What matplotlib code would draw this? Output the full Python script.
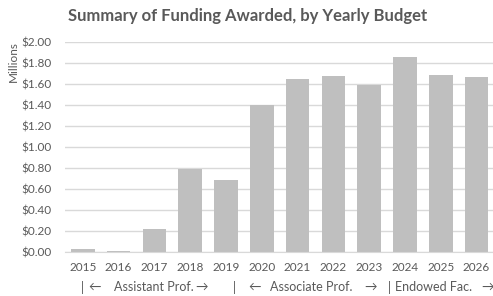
import matplotlib.pyplot as plt
from matplotlib.ticker import FuncFormatter

plt.rcParams['font.family'] = ['Lato', 'DejaVu Sans']

years = ['2015', '2016', '2017', '2018', '2019', '2020',
         '2021', '2022', '2023', '2024', '2025', '2026']
funding = [0.025, 0.005, 0.22, 0.79, 0.69, 1.40,
           1.645, 1.68, 1.59, 1.86, 1.685, 1.665]
y_ticks = [0.0, 0.2, 0.4, 0.6, 0.8, 1.0, 1.2, 1.4, 1.6, 1.8, 2.0]

# career stage row under the years: (text, x in px, alignment)
stage_parts = [('|', 82, 'center'), ('\u2190', 94.5, 'center'),
               ('Assistant Prof.', 114, 'left'), ('\u2192', 202, 'center'),
               ('|', 234, 'center'), ('\u2190', 255, 'center'),
               ('Associate Prof.', 270, 'left'), ('\u2192', 371, 'center'),
               ('|', 389, 'center'), ('Endowed Fac.', 395, 'left'),
               ('\u2192', 488, 'center')]

text_color = '#595959'
W, H = 493, 296

fig = plt.figure(figsize=(W / 100, H / 100), dpi=100)
ax = fig.add_axes([0.1316, 0.1486, 0.8714, 0.7095])

ax.bar(range(len(years)), funding, width=0.66, color='#BFBFBF', zorder=2)

ax.set_xlim(-0.5, len(years) - 0.5)
ax.set_ylim(0, 2.0)
ax.set_yticks(y_ticks)
ax.yaxis.set_major_formatter(FuncFormatter(lambda v, p: f'${v:.2f}'))
ax.set_xticks(range(len(years)))
ax.set_xticklabels(years)

ax.grid(axis='y', color='#D9D9D9', linewidth=1, zorder=0)
for s in ['top', 'right', 'left']:
    ax.spines[s].set_visible(False)
ax.spines['bottom'].set_color('#D9D9D9')
ax.tick_params(length=0, colors=text_color, labelsize=8.5)
ax.tick_params(axis='y', pad=9.4)
ax.tick_params(axis='x', pad=7.5)

ax.set_ylabel('Millions', color=text_color, fontsize=8.5)
ax.yaxis.set_label_coords(-0.108, 0.905)

fig.text(0.502, 1 - 16 / H, 'Summary of Funding Awarded, by Yearly Budget',
         ha='center', va='center', fontsize=12, fontweight='bold', color=text_color)
for txt, px, align in stage_parts:
    fig.text(px / W, 1 - 287 / H, txt, ha=align, va='center',
             fontsize=9, color=text_color)

fig.savefig('out.png', dpi=100)
